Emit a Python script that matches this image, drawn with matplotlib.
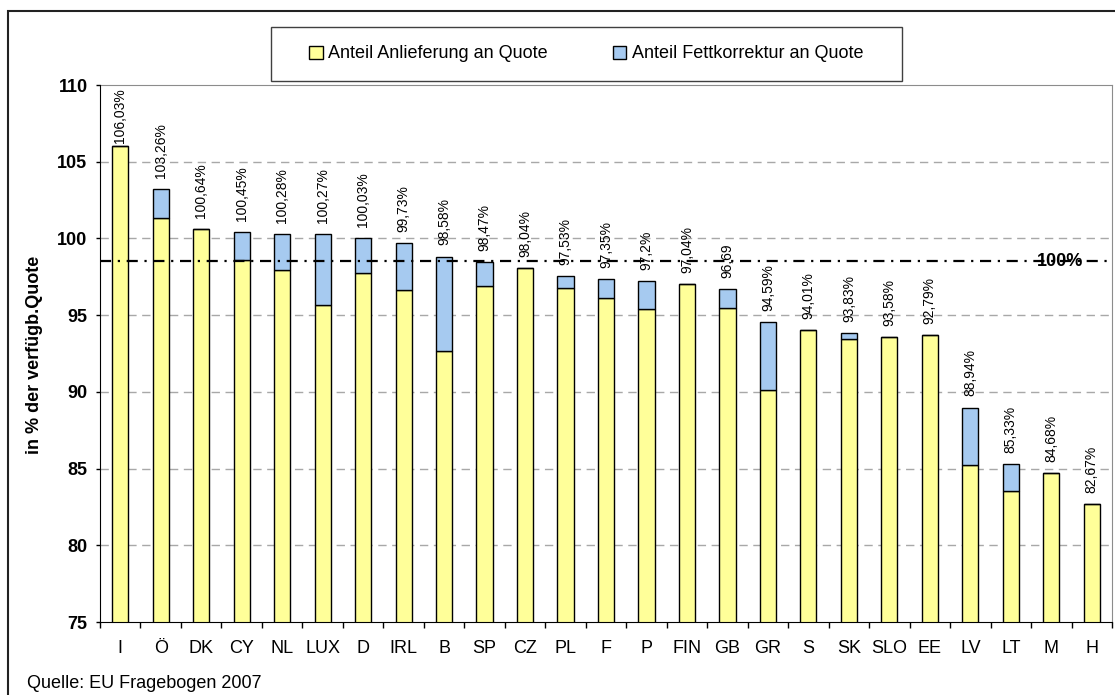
import matplotlib.pyplot as plt
from matplotlib.patches import Patch, Rectangle

plt.rcParams['font.family'] = ['Liberation Sans', 'DejaVu Sans']

laender = ['I', 'Ö', 'DK', 'CY', 'NL', 'LUX', 'D', 'IRL', 'B', 'SP', 'CZ', 'PL', 'F',
           'P', 'FIN', 'GB', 'GR', 'S', 'SK', 'SLO', 'EE', 'LV', 'LT', 'M', 'H']

# Anteil Anlieferung an Quote (gelb)
anlieferung = [106.02, 101.30, 100.61, 98.60, 97.96, 95.65, 97.73, 96.65, 92.68, 96.90,
               98.05, 96.79, 96.10, 95.38, 97.05, 95.47, 90.12, 94.00, 93.44, 93.59,
               93.68, 85.22, 83.52, 84.68, 82.67]

# Anteil Fettkorrektur an Quote (blau, oben drauf)
fettkorrektur = [0.0, 1.94, 0.0, 1.83, 2.32, 4.62, 2.27, 3.07, 6.14, 1.56,
                 0.0, 0.74, 1.27, 1.82, 0.0, 1.22, 4.45, 0.0, 0.41, 0.0,
                 0.0, 3.76, 1.78, 0.0, 0.0]

beschriftung = ['106,03%', '103,26%', '100,64%', '100,45%', '100,28%', '100,27%', '100,03%',
                '99,73%', '98,58%', '98,47%', '98,04%', '97,53%', '97,35%', '97,2%',
                '97,04%', '96,69', '94,59%', '94,01%', '93,83%', '93,58%', '92,79%',
                '88,94%', '85,33%', '84,68%', '82,67%']

linie_100 = 98.5

GELB = '#FFFF99'
BLAU = '#A6CAF0'

W, H = 1115, 695
fig = plt.figure(figsize=(W / 100, H / 100), dpi=100)
ax = fig.add_axes([100 / W, 1 - 622 / H, 1012 / W, 537 / H])

x = list(range(len(laender)))
ax.bar(x, anlieferung, width=0.4, color=GELB, edgecolor='black', linewidth=1, zorder=3)
ax.bar(x, fettkorrektur, width=0.4, bottom=anlieferung, color=BLAU,
       edgecolor='black', linewidth=1, zorder=3)

ymin, ymax = 75, 110
ax.set_ylim(ymin, ymax)
ax.set_xlim(-0.5, len(laender) - 0.5)

# Gitterlinien
for g in range(80, 110, 5):
    ax.axhline(g, color='#A8A8A8', linewidth=1, linestyle=(0, (6, 4)), zorder=1)

ax.axhline(linie_100, color='black', linewidth=1.6, linestyle=(0, (5, 3, 1, 3)), zorder=4)
ax.text(0.926, linie_100, '100%', transform=ax.get_yaxis_transform(), ha='left',
        va='center', fontsize=13, fontweight='bold', zorder=5)

# Datenbeschriftungen
for i in x:
    total = anlieferung[i] + fettkorrektur[i]
    if total + 4.6 > ymax:
        ax.text(i, ymax - 0.2, beschriftung[i], rotation=90, ha='center', va='top',
                fontsize=10, zorder=5)
    else:
        ax.annotate(beschriftung[i], (i, total), xytext=(0, 8), textcoords='offset points',
                    rotation=90, ha='center', va='bottom', fontsize=10, zorder=5)

ax.set_yticks(range(75, 111, 5))
ax.set_yticklabels([str(v) for v in range(75, 111, 5)], fontsize=13, fontweight='bold')
ax.tick_params(axis='y', direction='out', length=3, width=1, pad=6)

ax.set_xticks(x)
ax.set_xticklabels(laender, fontsize=13)
ax.tick_params(axis='x', which='major', length=0, pad=13)
ax.set_xticks([i - 0.5 for i in range(len(laender) + 1)], minor=True)
ax.tick_params(axis='x', which='minor', direction='out', length=4, width=1)

for s in ['top', 'right']:
    ax.spines[s].set_color('#8C8C8C')
for s in ['left', 'bottom']:
    ax.spines[s].set_color('black')
    ax.spines[s].set_zorder(6)

fig.text(35 / W, 1 - 355 / H, 'in % der verfügb.Quote', rotation=90, ha='center',
         va='center', fontsize=13, fontweight='bold')

# Legende
handles = [Patch(facecolor=GELB, edgecolor='black', linewidth=1),
           Patch(facecolor=BLAU, edgecolor='black', linewidth=1)]
fig.legend(handles, ['Anteil Anlieferung an Quote', 'Anteil Fettkorrektur an Quote'],
           loc='center', bbox_to_anchor=(586 / W, 1 - 54 / H), ncol=2, frameon=False,
           fontsize=13, handlelength=0.75, handleheight=0.75, handletextpad=0.3,
           columnspacing=3.6)
fig.add_artist(Rectangle((271 / W, 1 - 81 / H), 631 / W, 54 / H, transform=fig.transFigure,
                         facecolor='none', edgecolor='#404040', linewidth=1))

# Rahmen
fig.add_artist(Rectangle((8 / W, -0.05), 1.0, 1 - 11 / H + 0.05, transform=fig.transFigure,
                         facecolor='none', edgecolor='#222222', linewidth=1.5))

fig.text(27 / W, 1 - 683 / H, 'Quelle: EU Fragebogen 2007', ha='left', va='center',
         fontsize=13)

fig.savefig('out.png', dpi=100)
